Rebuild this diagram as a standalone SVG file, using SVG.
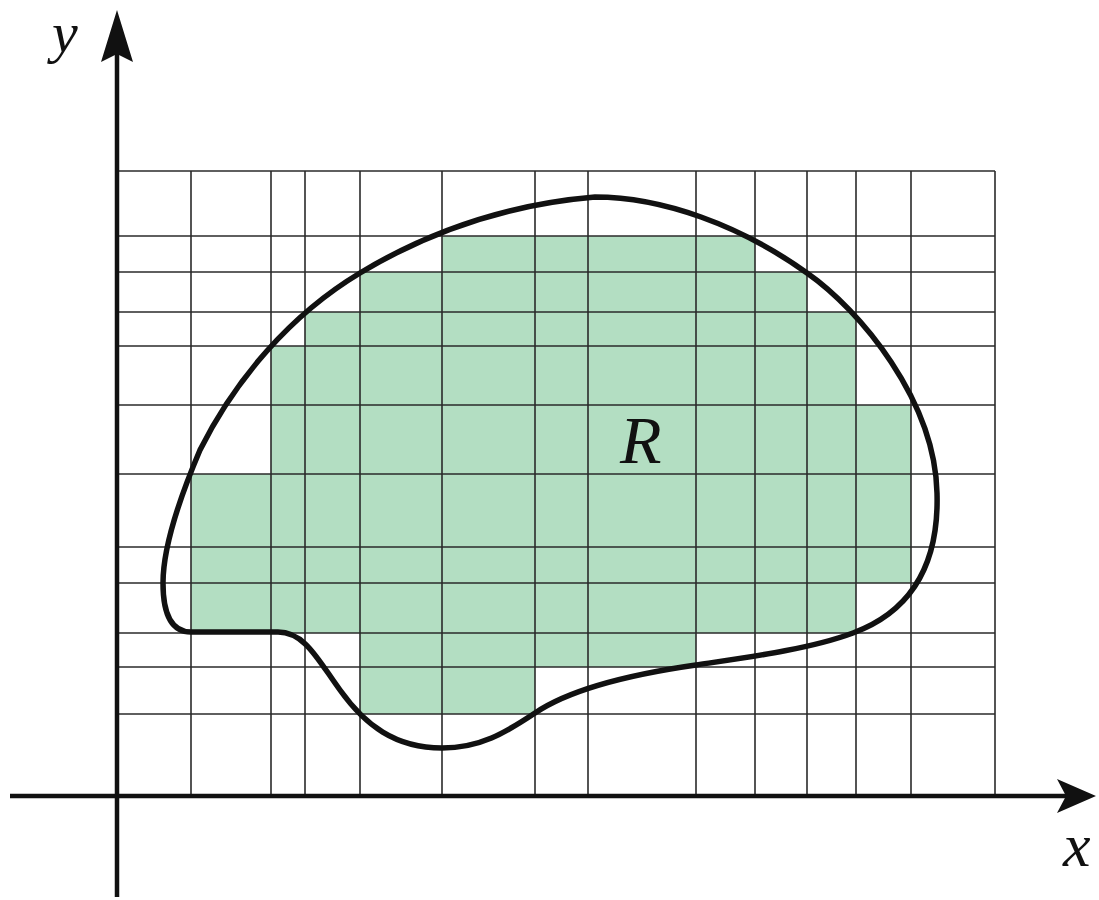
<svg xmlns="http://www.w3.org/2000/svg" width="1099" height="900" viewBox="0 0 1099 900">
<style>
.cell{fill:#b3dec2;stroke:none}
.grid line{stroke:#2a2a2a;stroke-width:1.6}
.axis{stroke:#111;stroke-width:4.5;fill:none}
.head{fill:#111}
.curve{fill:none;stroke:#111;stroke-width:5.5;stroke-linejoin:round}
.lbl{font-family:"Liberation Serif","Times New Roman",serif;font-style:italic;fill:#111}
</style>
<rect width="1099" height="900" fill="#fff"/>
<g id="cells">
<rect class="cell" x="442" y="236" width="313" height="36"/>
<rect class="cell" x="360" y="272" width="447" height="40"/>
<rect class="cell" x="305" y="312" width="551" height="34"/>
<rect class="cell" x="271" y="346" width="585" height="59"/>
<rect class="cell" x="271" y="405" width="640" height="69"/>
<rect class="cell" x="191" y="474" width="720" height="109"/>
<rect class="cell" x="191" y="583" width="665" height="50"/>
<rect class="cell" x="360" y="633" width="336" height="34"/>
<rect class="cell" x="360" y="667" width="175" height="47"/>
</g>
<g id="grid" class="grid">
<line x1="117" y1="171" x2="995" y2="171"/>
<line x1="117" y1="236" x2="995" y2="236"/>
<line x1="117" y1="272" x2="995" y2="272"/>
<line x1="117" y1="312" x2="995" y2="312"/>
<line x1="117" y1="346" x2="995" y2="346"/>
<line x1="117" y1="405" x2="995" y2="405"/>
<line x1="117" y1="474" x2="995" y2="474"/>
<line x1="117" y1="547" x2="995" y2="547"/>
<line x1="117" y1="583" x2="995" y2="583"/>
<line x1="117" y1="633" x2="995" y2="633"/>
<line x1="117" y1="667" x2="995" y2="667"/>
<line x1="117" y1="714" x2="995" y2="714"/>
<line x1="191" y1="171" x2="191" y2="795"/>
<line x1="271" y1="171" x2="271" y2="795"/>
<line x1="305" y1="171" x2="305" y2="795"/>
<line x1="360" y1="171" x2="360" y2="795"/>
<line x1="442" y1="171" x2="442" y2="795"/>
<line x1="535" y1="171" x2="535" y2="795"/>
<line x1="588" y1="171" x2="588" y2="795"/>
<line x1="696" y1="171" x2="696" y2="795"/>
<line x1="755" y1="171" x2="755" y2="795"/>
<line x1="807" y1="171" x2="807" y2="795"/>
<line x1="856" y1="171" x2="856" y2="795"/>
<line x1="911" y1="171" x2="911" y2="795"/>
<line x1="995" y1="171" x2="995" y2="795"/>
</g>
<g id="region-R">
<path class="curve" d="M595,197 C662,197 740,225 807,273 C860,310 935,400 937,493 C939,560 915,610 853,633 C810,649 750,657 696,665 C640,673 575,686 535,713 C505,733 480,748 442,748 C395,748 365,725 340,690 C318,660 305,632 278,632 L191,632 C172,632 163,615 163,583 C163,545 183,490 200,450 C235,380 290,315 360,273 C423,235 500,205 595,197 Z"/>
<text class="lbl" x="620" y="463" font-size="68">R</text>
</g>
<g id="axes">
<line class="axis" x1="10" y1="796" x2="1068" y2="796"/>
<polygon class="head" points="1096,796 1057,779 1066,796 1057,813"/>
<line class="axis" x1="117" y1="897" x2="117" y2="52"/>
<polygon class="head" points="117,10 101,62 117,54 133,62"/>
<text class="lbl" x="52" y="52" font-size="58">y</text>
<text class="lbl" x="1063" y="866" font-size="62">x</text>
</g>
</svg>
